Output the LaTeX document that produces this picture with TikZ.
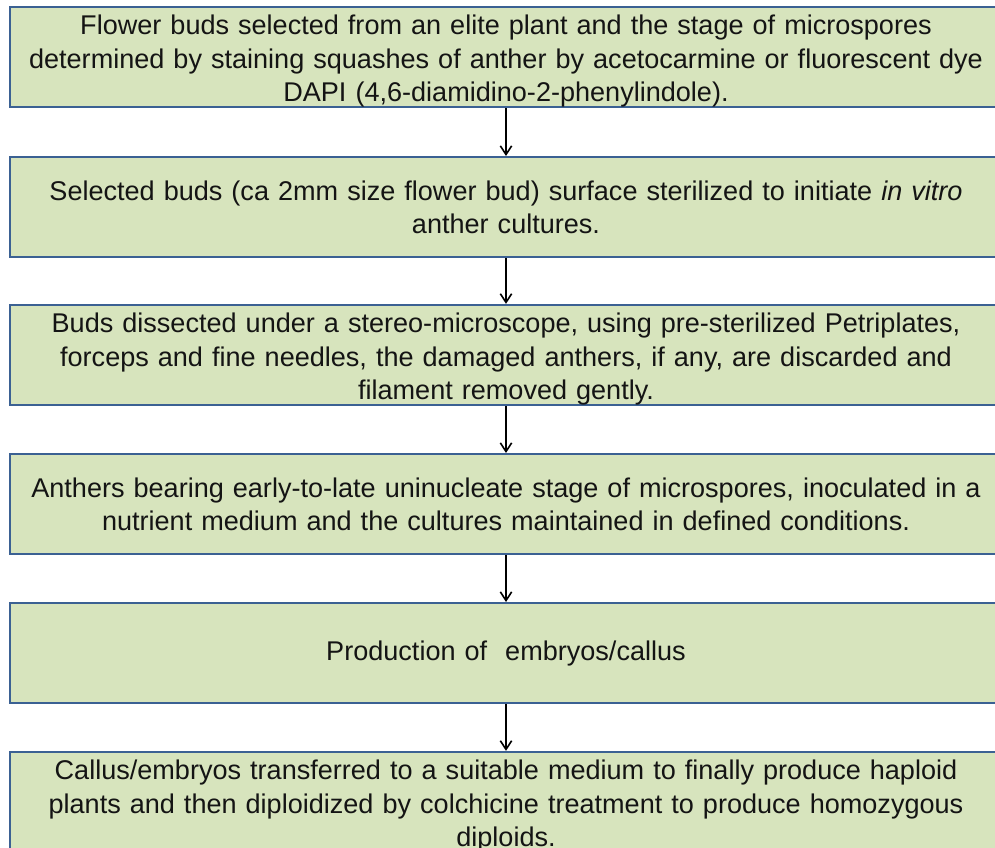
\documentclass[tikz,border=0pt]{standalone}
\usepackage{fontspec}
\setmainfont{Liberation Sans}
\usetikzlibrary{arrows.meta}
\definecolor{boxfill}{HTML}{D7E4BD}
\definecolor{boxline}{HTML}{3B6193}
\definecolor{inktext}{HTML}{141414}
% invisible strut that pushes three-line texts slightly down
\newcommand{\topgap}{\rule{0pt}{21pt}}
\tikzset{
  stepbox/.style={draw=boxline, line width=1.5pt, fill=boxfill,
    minimum width=744pt, minimum height=75pt, inner sep=0pt,
    text width=740pt, align=center, text=inktext,
    font=\fontsize{20.3}{25}\selectfont},
  flow/.style={draw=black, line width=1.1pt,
    -{Straight Barb[length=6.5pt,width=8.5pt,line width=1.2pt]}}
}
\begin{document}
\begin{tikzpicture}[x=0.75pt,y=-0.75pt]
\useasboundingbox (0,0) rectangle (995,848);
\fill[white] (0,0) rectangle (995,848);
\clip (0,0) rectangle (995,848);

\node[stepbox] (b1) at (506,57) {\topgap Flower buds selected from an elite plant and the stage of microspores\\
determined by staining squashes of anther by acetocarmine or fluorescent dye\\
DAPI (4,6-diamidino-2-phenylindole).};

\node[stepbox] (b2) at (506,207) {Selected buds (ca 2mm size flower bud) surface sterilized to initiate \textit{in vitro}\\
anther cultures.};

\node[stepbox] (b3) at (506,355) {\topgap Buds dissected under a stereo-microscope, using pre-sterilized Petriplates,\\
forceps and fine needles, the damaged anthers, if any, are discarded and\\
filament removed gently.};

\node[stepbox] (b4) at (506,504) {Anthers bearing early-to-late uninucleate stage of microspores, inoculated in a\\
nutrient medium and the cultures maintained in defined conditions.};

\node[stepbox] (b5) at (506,653) {Production of\ \ embryos/callus};

\node[stepbox] (b6) at (506,802) {\topgap Callus/embryos transferred to a suitable medium to finally produce haploid\\
plants and then diploidized by colchicine treatment to produce homozygous\\
diploids.};

\draw[flow] (b1.south) -- (b2.north);
\draw[flow] (b2.south) -- (b3.north);
\draw[flow] (b3.south) -- (b4.north);
\draw[flow] (b4.south) -- (b5.north);
\draw[flow] (b5.south) -- (b6.north);
\end{tikzpicture}
\end{document}
